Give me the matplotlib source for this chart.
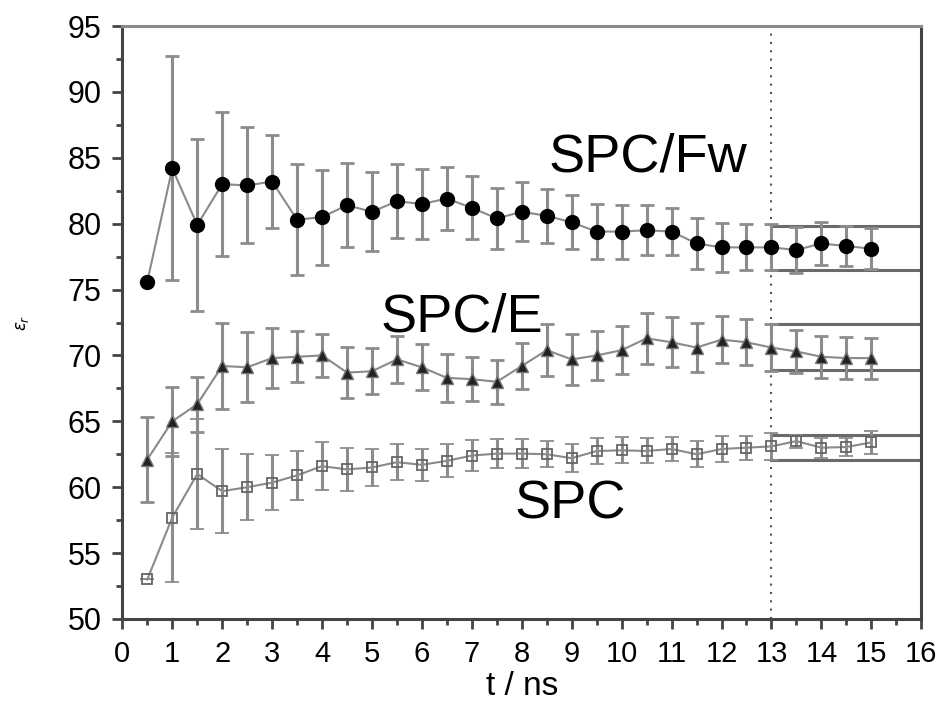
import matplotlib
matplotlib.use("Agg")
import matplotlib.pyplot as plt
from matplotlib.ticker import MultipleLocator

# 資料
t = [0.5, 1.0, 1.5, 2.0, 2.5, 3.0, 3.5, 4.0, 4.5, 5.0,
     5.5, 6.0, 6.5, 7.0, 7.5, 8.0, 8.5, 9.0, 9.5, 10.0,
     10.5, 11.0, 11.5, 12.0, 12.5, 13.0, 13.5, 14.0, 14.5, 15.0]

spcfw = [75.6, 84.2, 79.9, 83.0, 82.9, 83.2, 80.3, 80.5, 81.4, 80.9,
         81.7, 81.5, 81.9, 81.2, 80.4, 80.9, 80.6, 80.1, 79.4, 79.4,
         79.5, 79.4, 78.5, 78.2, 78.2, 78.2, 78.0, 78.5, 78.3, 78.1]
spcfw_err = [0, 8.5, 6.5, 5.45, 4.4, 3.5, 4.2, 3.6, 3.2, 3.0,
             2.8, 2.65, 2.4, 2.4, 2.3, 2.25, 2.05, 2.05, 2.1, 2.05,
             1.9, 1.8, 1.95, 1.85, 1.75, 1.75, 1.75, 1.6, 1.55, 1.55]

spce = [62.1, 65.0, 66.3, 69.2, 69.1, 69.8, 69.9, 70.0, 68.7, 68.8,
        69.7, 69.1, 68.3, 68.2, 68.0, 69.2, 70.4, 69.7, 70.0, 70.4,
        71.3, 71.0, 70.6, 71.2, 71.0, 70.6, 70.3, 69.9, 69.8, 69.8]
spce_err = [3.25, 2.6, 2.1, 3.3, 2.65, 2.25, 1.95, 1.6, 1.95, 1.75,
            1.8, 1.75, 1.8, 1.65, 1.65, 1.75, 1.95, 1.95, 1.85, 1.8,
            1.95, 1.9, 1.85, 1.8, 1.75, 1.75, 1.65, 1.6, 1.6, 1.55]

spc = [53.0, 57.7, 61.0, 59.7, 60.0, 60.35, 60.9, 61.6, 61.35, 61.5,
       61.9, 61.7, 62.0, 62.4, 62.55, 62.55, 62.5, 62.2, 62.75, 62.8,
       62.75, 62.9, 62.5, 62.9, 63.0, 63.1, 63.5, 63.0, 63.05, 63.4]
spc_err = [0, 4.9, 4.15, 3.2, 2.5, 2.1, 1.85, 1.8, 1.6, 1.4,
           1.35, 1.2, 1.25, 1.2, 1.1, 1.1, 1.0, 1.05, 1.0, 1.0,
           0.95, 0.9, 1.0, 1.0, 0.9, 1.0, 0.5, 0.75, 0.7, 0.85]

# 平均區間 (13 ns 之後) 的上下界
band_start = 13.0
fw_band = [79.8, 76.5]
e_band = [72.4, 68.9]
spc_band = [64.0, 62.1]

labels = ["SPC/Fw", "SPC/E", "SPC"]
label_pos = [(10.53, 85.0), (6.8, 72.85), (8.97, 58.7)]

# 繪圖設定
plt.rcParams['font.family'] = ['Liberation Sans', 'DejaVu Sans']
fig = plt.figure(figsize=(9.41, 7.03), dpi=100)
ax = fig.add_axes([0.130, 0.1195, 0.849, 0.8435])

line_c = '#8a8a8a'
err_c = '#8c8c8c'

# 三組數據
ax.errorbar(t, spcfw, yerr=spcfw_err, fmt='o', ms=10, color='black',
            mfc='black', mec='black', ecolor=err_c, elinewidth=2.2,
            capsize=5, capthick=2, zorder=3)
ax.plot(t, spcfw, '-', color=line_c, lw=1.5, zorder=2)

ax.errorbar(t, spce, yerr=spce_err, fmt='^', ms=8, color='black',
            mfc='#222222', mec='#777777', ecolor=err_c, elinewidth=2.2,
            capsize=5, capthick=2, zorder=3)
ax.plot(t, spce, '-', color=line_c, lw=1.5, zorder=2)

# 空心方塊: 誤差線和連線穿過中間 (⊞)
ax.errorbar(t, spc, yerr=spc_err, fmt='s', ms=7, color='#666666',
            mfc='none', mec='#666666', mew=1.3, ecolor=err_c,
            elinewidth=2.2, capsize=5, capthick=2, zorder=3)
ax.plot(t, spc, '-', color=line_c, lw=1.5, zorder=2)

# 13 ns 後的水平界線
for band in (fw_band, e_band, spc_band):
    for yv in band:
        ax.plot([band_start, 16], [yv, yv], color='#6a6a6a', lw=2.2, zorder=1)

# 垂直虛線
ax.axvline(band_start, color='#555555', lw=1.5, ls=(0, (1, 3)), zorder=1)

# 標籤文字
for txt, (xx, yy) in zip(labels, label_pos):
    ax.text(xx, yy, txt, fontsize=39, ha='center', va='center', color='black')

# 軸
ax.set_xlim(0, 16)
ax.set_ylim(50, 95)
ax.xaxis.set_major_locator(MultipleLocator(1))
ax.xaxis.set_minor_locator(MultipleLocator(0.5))
ax.yaxis.set_major_locator(MultipleLocator(5))
ax.yaxis.set_minor_locator(MultipleLocator(2.5))
ax.tick_params(which='major', direction='out', length=7, width=2, color='#444444',
               labelsize=22)
ax.tick_params(which='minor', direction='out', length=4, width=2, color='#444444')
ax.tick_params(axis='x', which='major', pad=8, labelsize=21)
ax.tick_params(axis='y', which='major', pad=8)

for side in ('left', 'bottom', 'right'):
    ax.spines[side].set_color('#444444')
    ax.spines[side].set_linewidth(2.2)
ax.spines['top'].set_color('#8a8a8a')
ax.spines['top'].set_linewidth(2.2)

ax.set_xlabel('t / ns', fontsize=24, labelpad=2)
ax.set_ylabel(r'$\varepsilon_r$', fontsize=12, labelpad=26)

fig.savefig('out.png', dpi=100)
